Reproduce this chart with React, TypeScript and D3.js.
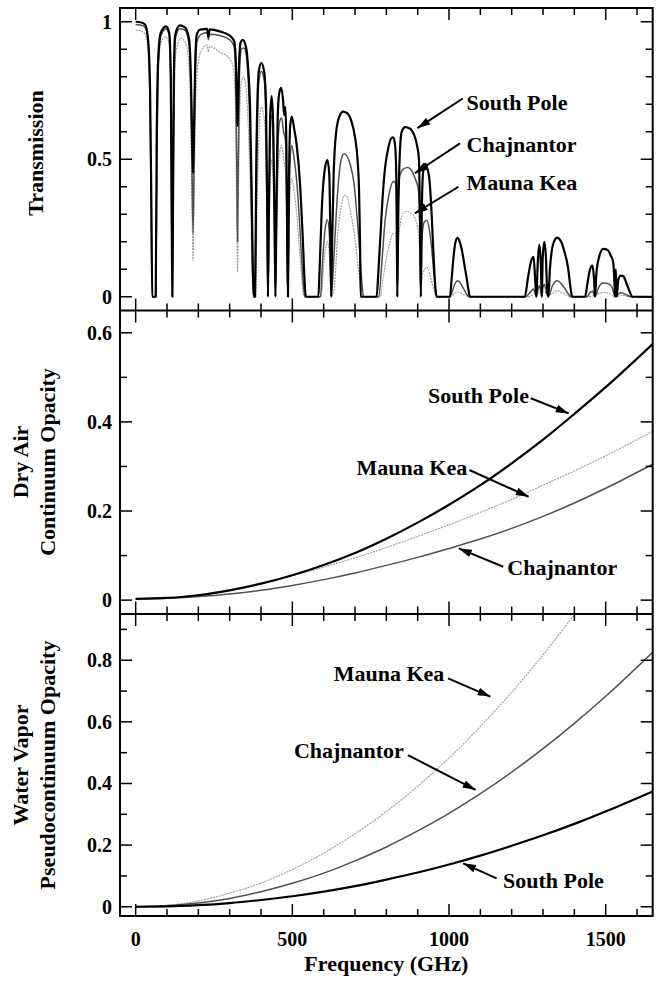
import React from 'react';
import * as d3 from 'd3';

type Pt = [number, number];

// Transmission spectra, [frequency GHz, transmission]
const southPoleTrans: Pt[] = [
  [0, 1.0], [15, 0.998], [30, 0.99], [40, 0.93], [46, 0.75], [50, 0.35], [53, 0], [64, 0], [67, 0.56], [72, 0.87],
  [80, 0.96], [97, 0.983], [107, 0.96], [112, 0.81], [115, 0.3], [117, 0], [119, 0.3], [122, 0.81], [126, 0.953],
  [141, 0.987], [157, 0.98], [170, 0.94], [176, 0.81], [180, 0.6], [183, 0.45], [186, 0.6], [190, 0.85], [195, 0.953],
  [205, 0.971], [228, 0.974], [232, 0.946], [236, 0.972], [268, 0.965], [300, 0.95], [314, 0.93], [320, 0.85],
  [323, 0.7], [325, 0.62], [327, 0.7], [330, 0.85], [335, 0.925], [342, 0.934], [352, 0.909], [359, 0.83], [365, 0.69],
  [370, 0.4], [374, 0.1], [377, 0], [381, 0], [385, 0.5], [393, 0.82], [401, 0.85], [410, 0.82], [416, 0.7], [420, 0.3],
  [422, 0], [425, 0.3], [429, 0.65], [434, 0.73], [439, 0.62], [443, 0.3], [446, 0], [449, 0.3], [453, 0.64],
  [458, 0.74], [464, 0.76], [470, 0.72], [474, 0.66], [478, 0.69], [481, 0.55], [484, 0.15], [486, 0], [489, 0.4],
  [493, 0.62], [498, 0.655], [506, 0.61], [514, 0.55], [524, 0.42], [533, 0.22], [539, 0.06], [543, 0], [583, 0],
  [587, 0.1], [594, 0.32], [604, 0.467], [612, 0.497], [618, 0.44], [621, 0.25], [624, 0], [627, 0.2], [632, 0.45],
  [640, 0.6], [650, 0.655], [662, 0.673], [675, 0.668], [688, 0.64], [700, 0.58], [708, 0.5], [713, 0.38], [716, 0.2],
  [718, 0], [769, 0], [774, 0.08], [780, 0.2], [788, 0.36], [796, 0.47], [806, 0.54], [815, 0.575], [822, 0.58],
  [828, 0.55], [832, 0.42], [835, 0], [838, 0.3], [843, 0.52], [849, 0.6], [860, 0.617], [875, 0.612], [888, 0.59],
  [898, 0.55], [904, 0.5], [907, 0.3], [910, 0], [913, 0.3], [917, 0.45], [923, 0.483], [930, 0.47], [938, 0.42],
  [945, 0.29], [951, 0.14], [956, 0.04], [960, 0], [1003, 0], [1008, 0.06], [1014, 0.14], [1020, 0.195], [1027, 0.214],
  [1034, 0.2], [1041, 0.17], [1050, 0.11], [1056, 0.07], [1062, 0.025], [1067, 0], [1242, 0], [1252, 0.07],
  [1262, 0.13], [1270, 0.145], [1275, 0.06], [1279, 0], [1283, 0.12], [1288, 0.19], [1293, 0.12], [1296, 0],
  [1299, 0.14], [1304, 0.2], [1309, 0.15], [1313, 0.03], [1317, 0], [1322, 0.1], [1332, 0.19], [1345, 0.215],
  [1358, 0.2], [1368, 0.165], [1380, 0.105], [1388, 0.03], [1393, 0], [1434, 0], [1442, 0.05], [1450, 0.1],
  [1458, 0.113], [1463, 0.06], [1466, 0], [1470, 0.08], [1478, 0.14], [1492, 0.174], [1506, 0.17], [1516, 0.15],
  [1524, 0.125], [1528, 0.05], [1530, 0], [1532, 0.1], [1535, 0], [1540, 0.06], [1548, 0.077], [1556, 0.075],
  [1566, 0.05], [1576, 0.02], [1586, 0], [1650, 0],
];

const chajnantorTrans: Pt[] = [
  [0, 0.99], [25, 0.985], [35, 0.965], [42, 0.88], [47, 0.6], [51, 0.15], [53, 0], [64, 0], [68, 0.5], [73, 0.86],
  [81, 0.95], [97, 0.975], [107, 0.95], [112, 0.78], [115, 0.25], [117, 0], [119, 0.25], [122, 0.78], [127, 0.94],
  [141, 0.975], [157, 0.97], [170, 0.92], [176, 0.75], [180, 0.45], [183, 0.23], [186, 0.45], [190, 0.78], [196, 0.93],
  [210, 0.955], [228, 0.96], [232, 0.935], [236, 0.955], [268, 0.95], [300, 0.935], [314, 0.91], [319, 0.8],
  [323, 0.45], [325, 0.2], [327, 0.45], [331, 0.8], [337, 0.9], [345, 0.905], [353, 0.88], [359, 0.79], [365, 0.6],
  [370, 0.28], [374, 0.05], [377, 0], [381, 0], [386, 0.45], [393, 0.78], [401, 0.82], [410, 0.79], [416, 0.62],
  [420, 0.25], [422, 0], [425, 0.25], [429, 0.56], [434, 0.66], [439, 0.55], [443, 0.25], [446, 0], [449, 0.25],
  [454, 0.55], [460, 0.64], [466, 0.65], [472, 0.6], [478, 0.57], [481, 0.45], [484, 0.12], [486, 0], [489, 0.3],
  [493, 0.5], [498, 0.55], [506, 0.5], [514, 0.42], [522, 0.29], [530, 0.13], [536, 0.03], [540, 0], [590, 0],
  [596, 0.12], [604, 0.24], [612, 0.28], [618, 0.23], [621, 0.12], [624, 0], [628, 0.05], [633, 0.15], [640, 0.3],
  [648, 0.43], [656, 0.5], [665, 0.52], [675, 0.51], [685, 0.48], [697, 0.41], [708, 0.27], [716, 0.15], [722, 0.05],
  [727, 0], [776, 0], [784, 0.1], [796, 0.277], [808, 0.37], [823, 0.42], [830, 0.41], [833, 0.3], [835, 0],
  [837, 0.3], [843, 0.44], [855, 0.465], [868, 0.47], [880, 0.46], [892, 0.43], [902, 0.39], [907, 0.25], [910, 0],
  [913, 0.2], [920, 0.27], [929, 0.278], [939, 0.23], [946, 0.16], [952, 0.08], [958, 0.02], [962, 0], [1003, 0],
  [1012, 0.025], [1020, 0.05], [1027, 0.058], [1036, 0.05], [1046, 0.03], [1056, 0.01], [1064, 0], [1245, 0],
  [1258, 0.015], [1270, 0.028], [1275, 0.01], [1279, 0], [1283, 0.02], [1288, 0.04], [1293, 0.02], [1296, 0],
  [1299, 0.03], [1304, 0.045], [1310, 0.02], [1317, 0], [1330, 0.04], [1345, 0.058], [1360, 0.045], [1375, 0.02],
  [1390, 0], [1440, 0], [1450, 0.015], [1458, 0.02], [1466, 0], [1478, 0.035], [1492, 0.05], [1506, 0.048],
  [1520, 0.035], [1530, 0], [1548, 0.015], [1565, 0.008], [1580, 0], [1650, 0],
];

const maunaKeaTrans: Pt[] = [
  [0, 0.97], [20, 0.965], [32, 0.95], [40, 0.88], [46, 0.65], [50, 0.25], [53, 0], [64, 0], [67, 0.45], [72, 0.82],
  [80, 0.92], [95, 0.945], [106, 0.925], [111, 0.75], [114, 0.3], [117, 0], [120, 0.3], [124, 0.75], [130, 0.9],
  [145, 0.94], [158, 0.925], [168, 0.87], [175, 0.68], [180, 0.32], [183, 0.13], [186, 0.32], [191, 0.68], [198, 0.84],
  [210, 0.895], [228, 0.915], [232, 0.89], [236, 0.91], [268, 0.89], [300, 0.865], [312, 0.83], [318, 0.7],
  [322, 0.35], [325, 0.09], [328, 0.35], [332, 0.65], [337, 0.78], [344, 0.8], [352, 0.76], [359, 0.63], [365, 0.42],
  [370, 0.15], [374, 0.02], [377, 0], [383, 0], [388, 0.35], [394, 0.6], [401, 0.69], [410, 0.65], [416, 0.47],
  [420, 0.15], [422, 0], [425, 0.15], [429, 0.4], [434, 0.5], [439, 0.4], [443, 0.15], [446, 0], [449, 0.15],
  [454, 0.42], [460, 0.53], [466, 0.55], [472, 0.5], [478, 0.45], [481, 0.32], [484, 0.08], [486, 0], [489, 0.2],
  [493, 0.37], [498, 0.43], [506, 0.38], [514, 0.3], [522, 0.18], [530, 0.07], [535, 0.01], [538, 0], [592, 0],
  [598, 0.08], [605, 0.17], [612, 0.2], [618, 0.15], [621, 0.08], [624, 0], [632, 0.02], [638, 0.1], [645, 0.23],
  [652, 0.3], [660, 0.35], [668, 0.37], [676, 0.36], [684, 0.32], [692, 0.27], [700, 0.21], [711, 0.1], [718, 0.04],
  [725, 0], [780, 0], [790, 0.07], [800, 0.14], [812, 0.2], [822, 0.23], [830, 0.23], [833, 0.15], [835, 0],
  [837, 0.15], [845, 0.27], [855, 0.305], [865, 0.31], [878, 0.305], [890, 0.29], [902, 0.23], [907, 0.14], [910, 0],
  [913, 0.06], [920, 0.095], [929, 0.107], [939, 0.08], [948, 0.04], [956, 0.01], [960, 0], [1005, 0], [1015, 0.01],
  [1027, 0.018], [1040, 0.012], [1055, 0.004], [1062, 0], [1250, 0], [1270, 0.008], [1288, 0.015], [1304, 0.018],
  [1317, 0.005], [1330, 0.012], [1345, 0.022], [1365, 0.012], [1385, 0], [1445, 0], [1470, 0.008], [1492, 0.016],
  [1510, 0.013], [1530, 0], [1555, 0.005], [1575, 0], [1650, 0],
];

// Dry air continuum opacity
const southPoleDry: Pt[] = [
  [0, 0.003], [100, 0.005], [200, 0.011], [300, 0.022], [400, 0.037], [500, 0.056], [600, 0.079], [700, 0.106],
  [800, 0.138], [900, 0.174], [1000, 0.214], [1100, 0.258], [1200, 0.307], [1300, 0.36], [1400, 0.418],
  [1500, 0.478], [1650, 0.575],
];
const chajnantorDry: Pt[] = [
  [0, 0.003], [100, 0.004], [200, 0.008], [300, 0.014], [400, 0.022], [500, 0.033], [600, 0.046], [700, 0.061],
  [800, 0.078], [900, 0.096], [1000, 0.116], [1100, 0.137], [1200, 0.161], [1300, 0.188], [1400, 0.218],
  [1500, 0.251], [1650, 0.305],
];
const maunaKeaDry: Pt[] = [
  [0, 0.003], [100, 0.005], [200, 0.012], [300, 0.024], [400, 0.038], [500, 0.055], [600, 0.074], [700, 0.095],
  [800, 0.118], [900, 0.143], [1000, 0.169], [1100, 0.197], [1200, 0.226], [1300, 0.258], [1400, 0.29],
  [1500, 0.324], [1650, 0.379],
];

// Water vapour pseudocontinuum opacity
const southPoleWet: Pt[] = [
  [0, 0], [100, 0.001], [200, 0.005], [300, 0.012], [400, 0.022], [500, 0.034], [600, 0.049], [700, 0.067],
  [800, 0.088], [900, 0.111], [1000, 0.137], [1100, 0.166], [1200, 0.198], [1300, 0.232], [1400, 0.269],
  [1500, 0.309], [1650, 0.374],
];
const chajnantorWet: Pt[] = [
  [0, 0], [100, 0.003], [200, 0.012], [300, 0.027], [400, 0.049], [500, 0.076], [600, 0.109], [700, 0.149],
  [800, 0.194], [900, 0.246], [1000, 0.303], [1100, 0.367], [1200, 0.437], [1300, 0.513], [1400, 0.595],
  [1500, 0.683], [1650, 0.826],
];
const maunaKeaWet: Pt[] = [
  [0, 0], [100, 0.005], [200, 0.019], [300, 0.044], [400, 0.077], [500, 0.121], [600, 0.174], [700, 0.237],
  [800, 0.309], [900, 0.391], [1000, 0.483], [1100, 0.585], [1200, 0.696], [1300, 0.817], [1400, 0.947],
  [1450, 1.01],
];

const freqTicks = [0, 500, 1000, 1500];
const transTicks = [0, 0.5, 1];
const dryTicks = [0, 0.2, 0.4, 0.6];
const wetTicks = [0, 0.2, 0.4, 0.6, 0.8];

const FONT = 'Liberation Serif, DejaVu Serif, serif';
const LEFT = 120;
const RIGHT = 652.7;

const styles = {
  sp: { stroke: '#000', width: 2.2, dash: undefined as string | undefined },
  ch: { stroke: '#505050', width: 1.5, dash: undefined as string | undefined },
  mk: { stroke: '#9a9a9a', width: 1.1, dash: '2 1' },
};

type Note = { text: string; at: Pt; from: Pt; tip: Pt; anchor: 'start' | 'end' };

const panels = [
  {
    id: 'trans', top: 8, bottom: 310.5, domain: [-0.05, 1.05], ticks: transTicks,
    title: ['Transmission'], titleY: 153,
    series: [{ d: maunaKeaTrans, s: styles.mk }, { d: chajnantorTrans, s: styles.ch }, { d: southPoleTrans, s: styles.sp }],
    notes: [
      { text: 'South Pole', at: [1056, 0.679], from: [1044, 0.721], tip: [899, 0.613], anchor: 'start' },
      { text: 'Chajnantor', at: [1056, 0.527], from: [1035, 0.558], tip: [891, 0.449], anchor: 'start' },
      { text: 'Mauna Kea', at: [1056, 0.388], from: [1030, 0.4], tip: [891, 0.303], anchor: 'start' },
    ] as Note[],
  },
  {
    id: 'dry', top: 310.5, bottom: 613.5, domain: [-0.03, 0.65], ticks: dryTicks,
    title: ['Dry Air', 'Continuum Opacity'], titleY: 462,
    series: [{ d: maunaKeaDry, s: styles.mk }, { d: chajnantorDry, s: styles.ch }, { d: southPoleDry, s: styles.sp }],
    notes: [
      { text: 'South Pole', at: [1255, 0.442], from: [1261, 0.453], tip: [1382, 0.419], anchor: 'end' },
      { text: 'Mauna Kea', at: [1058, 0.281], from: [1065, 0.292], tip: [1254, 0.232], anchor: 'end' },
      { text: 'Chajnantor', at: [1186, 0.056], from: [1173, 0.075], tip: [1031, 0.116], anchor: 'start' },
    ] as Note[],
  },
  {
    id: 'wet', top: 614, bottom: 916, domain: [-0.03, 0.95], ticks: wetTicks,
    title: ['Water Vapor', 'Pseudocontinuum Opacity'], titleY: 765,
    series: [{ d: maunaKeaWet, s: styles.mk }, { d: chajnantorWet, s: styles.ch }, { d: southPoleWet, s: styles.sp }],
    notes: [
      { text: 'Mauna Kea', at: [985, 0.733], from: [997, 0.741], tip: [1132, 0.682], anchor: 'end' },
      { text: 'Chajnantor', at: [856, 0.483], from: [869, 0.492], tip: [1085, 0.379], anchor: 'end' },
      { text: 'South Pole', at: [1172, 0.061], from: [1152, 0.092], tip: [1045, 0.141], anchor: 'start' },
    ] as Note[],
  },
];

export default function App() {
  const x = d3.scaleLinear().domain([-50, 1650]).range([LEFT, RIGHT]);
  const minorX = d3.range(0, 17).map((i) => i * 100);

  return (
    <svg width={662} height={988}
      style={{ position: 'absolute', left: 0, top: 0, background: '#fff', fontFamily: FONT, fontWeight: 700 }}>
      <defs>
        <marker id="ah" viewBox="0 0 13 8" refX="13" refY="4" markerWidth="13" markerHeight="8"
          markerUnits="userSpaceOnUse" orient="auto">
          <path d="M0,0 L13,4 L0,8 z" fill="#000" />
        </marker>
        {panels.map((p) => (
          <clipPath id={`clip-${p.id}`} key={p.id}>
            <rect x={LEFT} y={p.top} width={RIGHT - LEFT} height={p.bottom - p.top} />
          </clipPath>
        ))}
      </defs>
      <rect width={662} height={988} fill="#fff" />
      {panels.map((p) => {
        const y = d3.scaleLinear().domain(p.domain).range([p.bottom, p.top]);
        const line = d3.line<Pt>().x((d) => x(d[0])).y((d) => y(d[1])).curve(d3.curveMonotoneX);
        const minorY = d3.range(0, 11).map((i) => i / 10).filter((v) => v <= p.domain[1]);
        const isMajorY = (v: number) => p.ticks.some((t) => Math.abs(t - v) < 1e-6);
        return (
          <g key={p.id}>
            <g clipPath={`url(#clip-${p.id})`}>
              {p.series.map((s, i) => (
                <path key={i} d={line(s.d) || ''} fill="none" stroke={s.s.stroke} strokeWidth={s.s.width}
                  strokeDasharray={s.s.dash} strokeLinejoin="round" />
              ))}
            </g>
            {/* x ticks top and bottom, inward */}
            {minorX.map((f) => {
              const len = f % 500 === 0 ? 12 : 7;
              return (
                <g key={f} stroke="#000" strokeWidth={1.5}>
                  <line x1={x(f)} x2={x(f)} y1={p.top} y2={p.top + len} />
                  <line x1={x(f)} x2={x(f)} y1={p.bottom} y2={p.bottom - len} />
                </g>
              );
            })}
            {/* y ticks left and right, inward */}
            {minorY.map((v) => {
              const len = isMajorY(v) ? 12 : 7;
              return (
                <g key={v} stroke="#000" strokeWidth={1.5}>
                  <line x1={LEFT} x2={LEFT + len} y1={y(v)} y2={y(v)} />
                  <line x1={RIGHT} x2={RIGHT - len} y1={y(v)} y2={y(v)} />
                </g>
              );
            })}
            {p.ticks.map((v) => (
              <text key={v} x={112} y={y(v)} dy="0.35em" textAnchor="end" fontSize={20}>{String(v)}</text>
            ))}
            {p.title.map((t, i) => (
              <text key={t} transform={`translate(${p.title.length === 1 ? 42.5 : 27.5 + i * 27},${p.titleY}) rotate(-90)`}
                textAnchor="middle" fontSize={22}>{t}</text>
            ))}
            {p.notes.map((n) => (
              <g key={n.text}>
                <line x1={x(n.from[0])} y1={y(n.from[1])} x2={x(n.tip[0])} y2={y(n.tip[1])} stroke="#000"
                  strokeWidth={2} markerEnd="url(#ah)" />
                <text x={x(n.at[0])} y={y(n.at[1])} textAnchor={n.anchor} fontSize={22}>{n.text}</text>
              </g>
            ))}
          </g>
        );
      })}
      <rect x={LEFT} y={8} width={RIGHT - LEFT} height={908} fill="none" stroke="#000" strokeWidth={2} />
      <line x1={LEFT} x2={RIGHT} y1={310.5} y2={310.5} stroke="#000" strokeWidth={2} />
      <line x1={LEFT} x2={RIGHT} y1={614} y2={614} stroke="#000" strokeWidth={2} />
      {freqTicks.map((f) => (
        <text key={f} x={x(f)} y={946} textAnchor="middle" fontSize={20}>{f}</text>
      ))}
      <text x={(LEFT + RIGHT) / 2} y={971} textAnchor="middle" fontSize={22}>Frequency (GHz)</text>
    </svg>
  );
}
